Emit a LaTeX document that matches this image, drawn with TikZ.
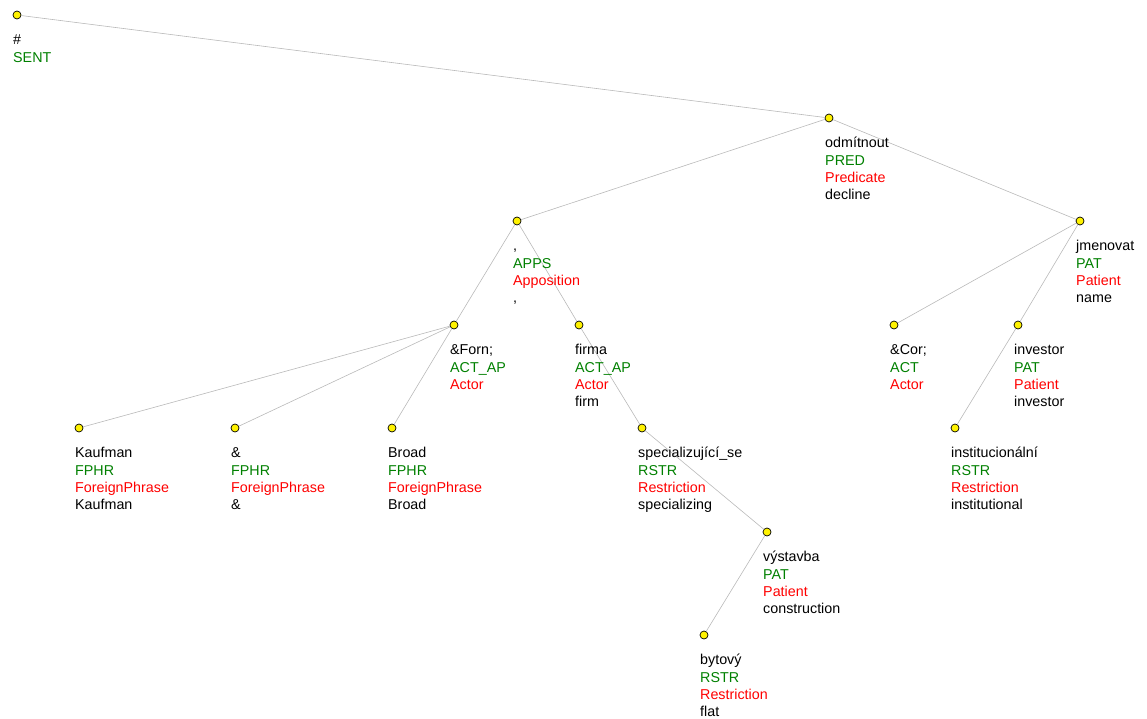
\documentclass[tikz,border=0pt]{standalone}
\usepackage{fontspec}
\setmainfont{Liberation Sans}
\usetikzlibrary{positioning}
\definecolor{funcgreen}{RGB}{0,128,0}
\definecolor{rolered}{RGB}{255,0,0}
\definecolor{edgegray}{RGB}{185,185,185}
\tikzset{tnode/.style={shape=circle, draw, fill=yellow, inner sep=0pt,
    minimum size=8pt, line width=.7pt}}
\tikzset{lbl/.style={anchor=north west, align=left, inner sep=0pt,
    font=\fontsize{14.3}{17.3}\selectfont}}
\tikzset{edge/.style={draw=edgegray, line width=.6pt}}
\newcommand{\tfunc}[1]{\textcolor{funcgreen}{#1}}
\newcommand{\trole}[1]{\textcolor{rolered}{#1}}

\begin{document}
\begin{tikzpicture}[x=1pt, y=-1pt]
    \useasboundingbox (0,0) rectangle (1147,719);
    % tree nodes
    \node[tnode] (sent) at (17,15) {};
    \node[tnode] (odmitnout) at (829,118) {};
    \node[tnode] (apps) at (517,221) {};
    \node[tnode] (jmenovat) at (1080,221) {};
    \node[tnode] (forn) at (454,325) {};
    \node[tnode] (firma) at (579,325) {};
    \node[tnode] (cor) at (894,325) {};
    \node[tnode] (investor) at (1018,325) {};
    \node[tnode] (kaufman) at (79,428) {};
    \node[tnode] (amp) at (235,428) {};
    \node[tnode] (broad) at (392,428) {};
    \node[tnode] (special) at (642,428) {};
    \node[tnode] (instit) at (955,428) {};
    \node[tnode] (vystavba) at (767,532) {};
    \node[tnode] (bytovy) at (704,635) {};
    % edges
    \path[edge] (sent) -- (odmitnout);
    \path[edge] (odmitnout) -- (apps);
    \path[edge] (odmitnout) -- (jmenovat);
    \path[edge] (apps) -- (forn);
    \path[edge] (apps) -- (firma);
    \path[edge] (forn) -- (kaufman);
    \path[edge] (forn) -- (amp);
    \path[edge] (forn) -- (broad);
    \path[edge] (firma) -- (special);
    \path[edge] (special) -- (vystavba);
    \path[edge] (vystavba) -- (bytovy);
    \path[edge] (jmenovat) -- (cor);
    \path[edge] (jmenovat) -- (investor);
    \path[edge] (investor) -- (instit);
    % labels
    \node[lbl] (sent-t) at ([xshift=-4pt,yshift=-17.4pt]sent.center) {\strut\#\\\tfunc{SENT}};
    \node[lbl] (odmitnout-t) at ([xshift=-4pt,yshift=-17.4pt]odmitnout.center)
        {\strut odmítnout\\\tfunc{PRED}\\\trole{Predicate}\\decline};
    \node[lbl] (apps-t) at ([xshift=-4pt,yshift=-17.4pt]apps.center)
        {\strut,\\\tfunc{APPS}\\\trole{Apposition}\\,};
    \node[lbl] (jmenovat-t) at ([xshift=-4pt,yshift=-17.4pt]jmenovat.center)
        {\strut jmenovat\\\tfunc{PAT}\\\trole{Patient}\\name};
    \node[lbl] (forn-t) at ([xshift=-4pt,yshift=-17.4pt]forn.center)
        {\strut\&Forn;\\\tfunc{ACT\_AP}\\\trole{Actor}};
    \node[lbl] (firma-t) at ([xshift=-4pt,yshift=-17.4pt]firma.center)
        {\strut firma\\\tfunc{ACT\_AP}\\\trole{Actor}\\firm};
    \node[lbl] (cor-t) at ([xshift=-4pt,yshift=-17.4pt]cor.center)
        {\strut\&Cor;\\\tfunc{ACT}\\\trole{Actor}};
    \node[lbl] (investor-t) at ([xshift=-4pt,yshift=-17.4pt]investor.center)
        {\strut investor\\\tfunc{PAT}\\\trole{Patient}\\investor};
    \node[lbl] (kaufman-t) at ([xshift=-4pt,yshift=-17.4pt]kaufman.center)
        {\strut Kaufman\\\tfunc{FPHR}\\\trole{ForeignPhrase}\\Kaufman};
    \node[lbl] (amp-t) at ([xshift=-4pt,yshift=-17.4pt]amp.center)
        {\strut\&\\\tfunc{FPHR}\\\trole{ForeignPhrase}\\\&};
    \node[lbl] (broad-t) at ([xshift=-4pt,yshift=-17.4pt]broad.center)
        {\strut Broad\\\tfunc{FPHR}\\\trole{ForeignPhrase}\\Broad};
    \node[lbl] (special-t) at ([xshift=-4pt,yshift=-17.4pt]special.center)
        {\strut specializující\_se\\\tfunc{RSTR}\\\trole{Restriction}\\specializing};
    \node[lbl] (instit-t) at ([xshift=-4pt,yshift=-17.4pt]instit.center)
        {\strut institucionální\\\tfunc{RSTR}\\\trole{Restriction}\\institutional};
    \node[lbl] (vystavba-t) at ([xshift=-4pt,yshift=-17.4pt]vystavba.center)
        {\strut výstavba\\\tfunc{PAT}\\\trole{Patient}\\construction};
    \node[lbl] (bytovy-t) at ([xshift=-4pt,yshift=-17.4pt]bytovy.center)
        {\strut bytový\\\tfunc{RSTR}\\\trole{Restriction}\\flat};
\end{tikzpicture}
\end{document}
